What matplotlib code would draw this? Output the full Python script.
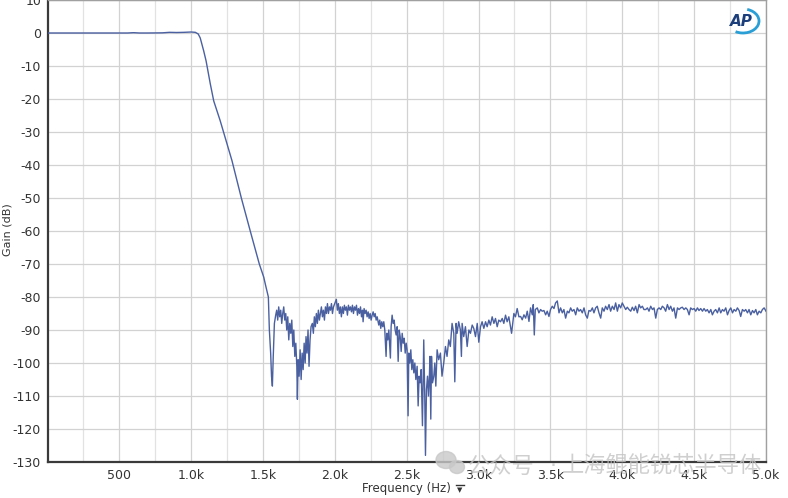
import matplotlib
matplotlib.use("Agg")
import matplotlib.pyplot as plt
from matplotlib.patches import Arc, Ellipse
from matplotlib.lines import Line2D

plt.rcParams["axes.unicode_minus"] = False

# passband and transition band (Hz, dB)
pass_freq = [5, 200, 500, 560, 600, 640, 700, 800, 850, 900, 950, 1000, 1030, 1050,
             1064, 1088, 1105, 1134, 1158, 1203, 1285, 1350, 1412, 1475, 1506, 1519, 1538]
pass_gain = [0, 0, 0, 0, 0.1, 0, 0, 0.05, 0.2, 0.15, 0.2, 0.3, 0.2, -0.3,
             -1.5, -5.4, -8.5, -15.4, -20.6, -26.6, -38.7, -50, -60, -70, -74, -76.5, -80]

# stopband residue in pieces
stop1_freq = [1545, 1554, 1560, 1566, 1572, 1580, 1589, 1596, 1603, 1610, 1617, 1624, 1631, 1638,
              1645, 1652, 1659, 1666, 1673, 1680, 1687, 1694, 1701, 1708, 1715, 1722, 1729, 1736,
              1740, 1745, 1752, 1759, 1766, 1773, 1780, 1787, 1794, 1800, 1807, 1814, 1821, 1828,
              1835, 1844, 1851, 1858, 1865, 1872, 1879, 1886, 1893, 1900, 1907, 1914, 1921, 1928,
              1935, 1942, 1949, 1956, 1963, 1970, 1977, 1984, 1991, 2000, 2011, 2018, 2025, 2032,
              2039, 2046, 2053, 2060, 2067, 2074, 2081, 2088, 2095, 2102]
stop1_gain = [-90, -97, -104, -107, -98, -88, -85.5, -84, -87, -83, -86, -84, -88, -85,
              -83, -87, -85, -90, -86, -93, -88, -91, -87, -95, -90, -98, -94, -101,
              -111, -99, -104, -96, -105, -97, -102, -94, -100, -92, -97, -90, -101, -93,
              -89, -88, -91, -86, -89, -85, -88, -84, -87, -85, -83, -86, -84, -87,
              -83, -85, -82, -85, -83, -84, -82, -85, -83, -82, -80.7, -84, -82, -85,
              -83, -86, -83, -85, -82.5, -84, -83, -85.5, -82.5, -84]

stop2_freq = [2109, 2116, 2123, 2130, 2137, 2144, 2151, 2158, 2165, 2172, 2179, 2186, 2193, 2197,
              2204, 2211, 2218, 2225, 2232, 2239, 2246, 2253, 2260, 2267, 2274, 2281, 2288, 2295,
              2306, 2313, 2320, 2327, 2334, 2341, 2348, 2357, 2362, 2369, 2376, 2387, 2392, 2399,
              2406, 2413, 2420, 2427, 2434, 2441, 2448, 2455, 2462, 2469, 2476, 2483, 2490, 2497,
              2503, 2510, 2515, 2522, 2529, 2536, 2543, 2550, 2557, 2564, 2573, 2580, 2587, 2594,
              2601, 2610, 2619, 2626, 2631, 2638, 2645, 2652, 2659, 2662, 2668, 2673, 2680, 2689,
              2696, 2703, 2712]
stop2_gain = [-83, -84.5, -82.5, -85, -83, -84, -82.5, -85.5, -83.5, -85, -83, -86, -84, -87.5,
              -83.5, -85, -84, -86, -84.5, -86.5, -85, -87, -85.5, -84.5, -86, -85, -87, -86,
              -88.5, -87, -89.5, -87.5, -89, -87.5, -90, -98, -91, -93, -90, -98.5, -89, -85.5,
              -88, -87, -90, -91.5, -89, -99.5, -90, -92, -96.5, -91, -94, -92.5, -97, -94,
              -96, -116, -97, -100, -96, -102, -99, -103, -100, -105, -101, -113, -104, -106,
              -102, -119, -93, -110, -128, -108, -104, -110, -103, -98, -117, -98, -106, -104,
              -100, -107, -96]

stop3_freq = [2723, 2735, 2746, 2758, 2770, 2781, 2793, 2804, 2816, 2828, 2835, 2844, 2851, 2862,
              2874, 2881, 2886, 2897, 2909, 2921, 2933, 2944, 2956, 2967, 2979, 2991, 3002, 3014,
              3025, 3037, 3049, 3060, 3072, 3083, 3095, 3107, 3118, 3130, 3141, 3153, 3165, 3176,
              3188, 3199, 3211, 3230, 3246, 3257, 3269, 3281]
stop3_gain = [-99, -97, -104, -100, -95, -98, -93, -95, -88, -91, -105.7, -88, -91, -87.5,
              -90, -98, -88, -92, -89, -95, -90, -91, -88.5, -89.5, -92, -88, -93.7, -89,
              -87.5, -89.5, -87.5, -89, -87, -88.5, -86, -88, -86.5, -89, -87, -87.5, -86.5, -88,
              -85.5, -87.5, -86, -91, -85, -86, -83.5, -86]

stop4_freq = [3293, 3304, 3316, 3328, 3339, 3351, 3362, 3374, 3381, 3388, 3395, 3409, 3420, 3432,
              3443, 3455, 3467, 3478, 3490, 3501, 3513, 3525, 3536, 3548, 3560, 3571, 3583, 3594,
              3606, 3618, 3629, 3641, 3652, 3664, 3676, 3687, 3699, 3710, 3722, 3734, 3745, 3757,
              3768, 3780, 3792, 3803, 3815, 3826, 3838, 3850, 3861, 3873, 3884, 3896, 3908, 3919,
              3931, 3943, 3954, 3966, 3977, 3989, 4000, 4012, 4024, 4035, 4047, 4059, 4070, 4082,
              4093, 4105, 4117, 4128, 4140, 4151]
stop4_gain = [-85.9, -86.9, -85.4, -86.4, -84.3, -87.4, -83.3, -85.4, -82.3, -91.5, -83.8, -83.3, -84.8, -83.8,
              -84.3, -84.1, -85.4, -84.3, -85.9, -83.8, -82.8, -83.5, -81.8, -81.2, -84.8, -83.3, -84.8, -83.8,
              -86.4, -84.3, -84.8, -83.3, -84.3, -83.8, -85.4, -83.3, -84.3, -83.8, -84.8, -83.3, -85.4, -86.4,
              -84.1, -84.3, -83.3, -84.8, -83.3, -82.8, -84.8, -86.4, -83.3, -84.3, -82.8, -83.8, -82.3, -84.3,
              -82.8, -83.8, -81.8, -84.3, -82.3, -83.3, -81.8, -82.8, -83.8, -83.1, -83.8, -84.3, -83.1, -84.1,
              -82.8, -84.8, -82.3, -83.3, -82.8, -83.8]

stop5_freq = [4163, 4175, 4186, 4198, 4210, 4221, 4233, 4244, 4256, 4268, 4279, 4291, 4302, 4314,
              4326, 4337, 4349, 4360, 4372, 4384, 4395, 4407, 4418, 4430, 4442, 4453, 4465, 4476,
              4488, 4500, 4511, 4523, 4534, 4546, 4558, 4569, 4581, 4592, 4604, 4616, 4627, 4639,
              4650, 4662, 4674, 4685, 4697, 4708, 4720, 4732, 4743, 4755, 4767, 4778, 4790, 4801,
              4813, 4824, 4836, 4848, 4859, 4871, 4882, 4894, 4906, 4917, 4929, 4940, 4952, 4964,
              4975, 4987, 5000]
stop5_gain = [-83.8, -83.3, -84.3, -82.8, -83.8, -83.3, -86.4, -83.8, -83.3, -83.8, -82.8, -83.3, -84.3, -82.3,
              -83.8, -82.8, -84.3, -83.3, -86.4, -83.3, -83.8, -83.3, -83.1, -83.8, -83.3, -83.8, -85.4, -83.3,
              -83.8, -83.5, -84.3, -83.3, -84.1, -83.5, -84.3, -83.5, -84.3, -83.8, -84.8, -83.8, -85.4, -84.3,
              -83.8, -84.8, -83.3, -84.8, -83.8, -84.3, -83.3, -85.4, -84.1, -83.3, -84.8, -83.8, -84.3, -83.3,
              -84.1, -85.9, -83.8, -84.3, -83.8, -84.8, -83.8, -85.4, -84.1, -84.8, -83.8, -85.4, -84.3, -84.8,
              -83.8, -83.3, -84.3]

freq = pass_freq + stop1_freq + stop2_freq + stop3_freq + stop4_freq + stop5_freq
gain = pass_gain + stop1_gain + stop2_gain + stop3_gain + stop4_gain + stop5_gain

xticks = [500, 1000, 1500, 2000, 2500, 3000, 3500, 4000, 4500, 5000]
xtick_labels = ["500", "1.0k", "1.5k", "2.0k", "2.5k", "3.0k", "3.5k", "4.0k", "4.5k", "5.0k"]
xminor = [250, 750, 1250, 1750, 2250, 2750, 3250, 3750, 4250, 4750]
yticks = list(range(-130, 11, 10))

W, H = 788, 498
fig = plt.figure(figsize=(W / 100, H / 100), dpi=100)
fig.patch.set_facecolor("white")
ax = fig.add_axes([48 / W, 36 / H, 718 / W, 462 / H])

ax.plot(freq, gain, color="#4a60a0", lw=1.0, zorder=3)

ax.set_xlim(5, 5000)
ax.set_ylim(-130, 10)
ax.set_xticks(xticks)
ax.set_xticklabels(xtick_labels)
ax.set_xticks(xminor, minor=True)
ax.set_yticks(yticks)
ax.grid(which="major", color="#d2d2d2", lw=0.9)
ax.grid(which="minor", axis="x", color="#e2e2e2", lw=0.9)
ax.tick_params(which="both", length=0, labelsize=9, labelcolor="#333333", pad=5)

for side in ["left", "bottom"]:
    ax.spines[side].set_color("#3a3a3a")
    ax.spines[side].set_linewidth(1.6)
for side in ["top", "right"]:
    ax.spines[side].set_color("#a0a0a0")
    ax.spines[side].set_linewidth(1.0)

# axis titles
fig.text(406 / W, 1 - 488 / H, "Frequency (Hz)", ha="center", va="center",
         fontsize=8.5, color="#333333")
fig.text(460 / W, 1 - 490 / H, "\u25bc", ha="center", va="center", fontsize=5, color="#333333")
fig.add_artist(Line2D([456 / W, 464 / W], [1 - 485 / H, 1 - 485 / H], color="#333333", lw=1,
                      transform=fig.transFigure))
fig.text(8 / W, 1 - 230 / H, "Gain (dB)", rotation=90, ha="center", va="center",
         fontsize=8, color="#333333")

# AP logo
fig.text(741 / W, 1 - 21 / H, "AP", ha="center", va="center", fontsize=11,
         fontweight="bold", style="italic", color="#1c3f7c")
fig.add_artist(Arc((7.43, (H - 21) / 100), 0.32, 0.24, theta1=235, theta2=70,
                   color="#2a9fd6", lw=2, transform=fig.dpi_scale_trans))

# watermark
fig.add_artist(Ellipse((4.46, (H - 460) / 100), 0.2, 0.17, color="#c8c8c8",
                       transform=fig.dpi_scale_trans, alpha=0.8, zorder=5))
fig.add_artist(Ellipse((4.57, (H - 467) / 100), 0.15, 0.13, color="#c8c8c8",
                       transform=fig.dpi_scale_trans, alpha=0.8, zorder=5))
fig.text(468 / W, 1 - 466 / H, "公众号", ha="left", va="center", fontsize=16,
         color="#c4c4c4", alpha=0.8, family=["Noto Sans CJK SC", "DejaVu Sans"])
fig.text(553 / W, 1 - 466 / H, "·", ha="center", va="center", fontsize=16,
         color="#c4c4c4", alpha=0.8)
fig.text(562 / W, 1 - 466 / H, "上海鲲能锐芯半导体", ha="left", va="center", fontsize=16,
         color="#c4c4c4", alpha=0.8, family=["Noto Sans CJK SC", "DejaVu Sans"])

fig.savefig("out.png", dpi=100)
